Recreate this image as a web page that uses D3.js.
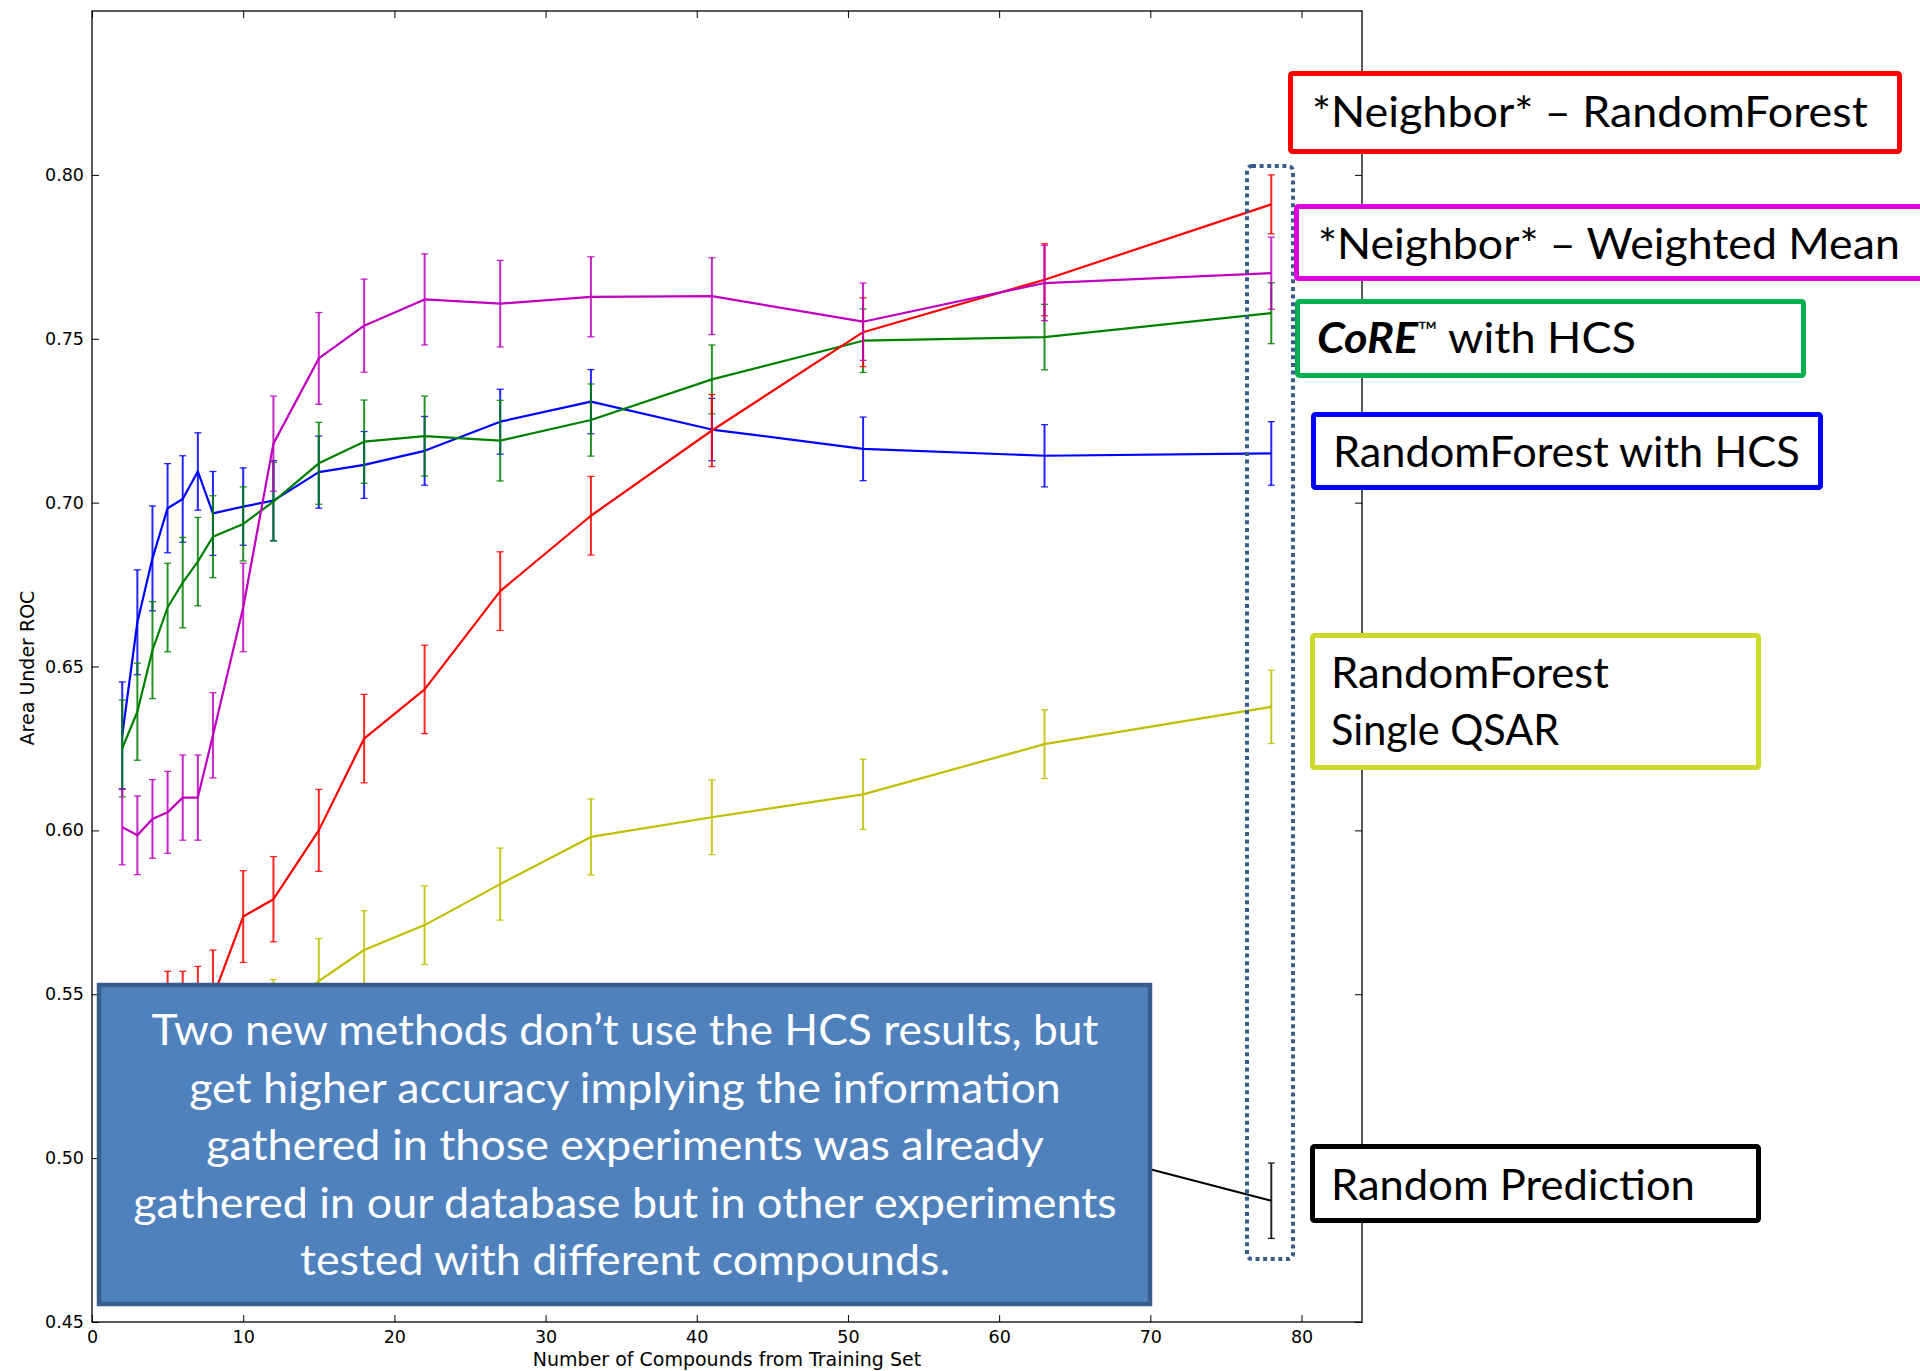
<!DOCTYPE html>
<html><head><meta charset="utf-8">
<script src="https://cdn.jsdelivr.net/npm/d3@7"></script>
<style>body{margin:0;background:#fff} svg{display:block}</style>
</head><body>
<svg id="chart" width="1920" height="1371"></svg>
<script>
// ---------- data ----------
const xValues = [2,3,4,5,6,7,8,10,12,15,18,22,27,33,41,51,63,78];

const rfHcsMean   = [0.629,0.6635,0.683,0.6983,0.7011,0.7095,0.6967,0.6988,0.7006,0.7093,0.7115,0.7158,0.7247,0.7308,0.7223,0.7164,0.7143,0.7150];
const rfHcsErr    = [0.0163,0.016,0.016,0.0136,0.0132,0.0118,0.0128,0.0118,0.0122,0.011,0.0102,0.0105,0.0099,0.0098,0.0095,0.0097,0.0095,0.0097];

const coreMean    = [0.625,0.6362,0.655,0.668,0.6756,0.682,0.6896,0.6935,0.7003,0.712,0.7186,0.7203,0.7189,0.7252,0.7376,0.7494,0.7505,0.7578];
const coreErr     = [0.0148,0.0148,0.0148,0.0135,0.0138,0.0135,0.0125,0.0113,0.012,0.0125,0.0127,0.0122,0.0123,0.011,0.0105,0.0097,0.010,0.0093];

const nbrRfMean   = [0.525,0.530,0.536,0.543,0.543,0.545,0.549,0.5737,0.579,0.600,0.628,0.643,0.673,0.696,0.722,0.752,0.768,0.791];
const nbrRfErr    = [0.014,0.014,0.014,0.014,0.014,0.0135,0.0145,0.014,0.013,0.0125,0.0135,0.0135,0.012,0.012,0.011,0.0105,0.011,0.009];

const nbrWmMean   = [0.601,0.5985,0.6035,0.6055,0.610,0.610,0.629,0.668,0.718,0.744,0.754,0.762,0.7607,0.7628,0.763,0.7552,0.767,0.770];
const nbrWmErr    = [0.0115,0.012,0.012,0.0125,0.013,0.013,0.013,0.0135,0.0145,0.014,0.0142,0.0139,0.0132,0.0122,0.0117,0.0118,0.0115,0.011];

const rfQsarMean  = [0.520,0.523,0.525,0.528,0.530,0.532,0.535,0.538,0.542,0.554,0.5635,0.5711,0.5836,0.598,0.604,0.611,0.6263,0.6377];
const rfQsarErr   = [0.012,0.012,0.012,0.012,0.012,0.012,0.012,0.012,0.0125,0.013,0.012,0.012,0.011,0.0116,0.0114,0.0107,0.0105,0.0112];

const randomMean  = [0.500,0.500,0.500,0.500,0.500,0.500,0.500,0.500,0.500,0.500,0.500,0.500,0.500,0.500,0.500,0.500,0.505,0.487];
const randomErr   = [0.0115,0.0115,0.0115,0.0115,0.0115,0.0115,0.0115,0.0115,0.0115,0.0115,0.0115,0.0115,0.0115,0.0115,0.0115,0.0115,0.0115,0.0115];

const xTicks = [0,10,20,30,40,50,60,70,80];
const yTicks = [0.45,0.50,0.55,0.60,0.65,0.70,0.75,0.80];
const xLabel = "Number of Compounds from Training Set";
const yLabel = "Area Under ROC";

const legendLabels = ["*Neighbor* – RandomForest","*Neighbor* – Weighted Mean","CoRE™ with HCS","RandomForest with HCS","RandomForest|Single QSAR","Random Prediction"];
const noteLines = ["Two new methods don’t use the HCS results, but","get higher accuracy implying the information","gathered in those experiments was already","gathered in our database but in other experiments","tested with different compounds."];

// ---------- setup ----------
const svg = d3.select("#chart");
const L = 92, R = 1362, T = 11, B = 1322;
const x = d3.scaleLinear().domain([0,84]).range([L,R]);
const y = d3.scaleLinear().domain([0.45,0.85]).range([B,T]);

const series = [
  {mean: rfHcsMean,  err: rfHcsErr,  color: "#0000ff"},
  {mean: coreMean,   err: coreErr,   color: "#008000"},
  {mean: nbrRfMean,  err: nbrRfErr,  color: "#ff0000"},
  {mean: nbrWmMean,  err: nbrWmErr,  color: "#bf00bf"},
  {mean: rfQsarMean, err: rfQsarErr, color: "#bfbf00"},
  {mean: randomMean, err: randomErr, color: "#000000"}
];

const tickFont = "'DejaVu Sans', sans-serif";

// axes
const gx = svg.append("g").attr("transform",`translate(0,${B})`)
  .call(d3.axisBottom(x).tickValues(xTicks).tickSizeInner(-7).tickSizeOuter(0).tickPadding(9).tickFormat(d3.format("d")));
const gxt = svg.append("g").attr("transform",`translate(0,${T})`)
  .call(d3.axisTop(x).tickValues(xTicks).tickSizeInner(-7).tickSizeOuter(0).tickFormat(""));
const gy = svg.append("g").attr("transform",`translate(${L},0)`)
  .call(d3.axisLeft(y).tickValues(yTicks).tickSizeInner(-7).tickSizeOuter(0).tickPadding(8).tickFormat(d3.format(".2f")));
const gyr = svg.append("g").attr("transform",`translate(${R},0)`)
  .call(d3.axisRight(y).tickValues(yTicks).tickSizeInner(-7).tickSizeOuter(0).tickFormat(""));
[gx,gxt,gy,gyr].forEach(g=>{
  g.select(".domain").remove();
  g.selectAll(".tick line").attr("stroke","#000").attr("stroke-width",1);
  g.selectAll("text").attr("font-family",tickFont).attr("font-size",17.5).attr("fill","#000");
});
gx.selectAll("text").attr("dy","0.71em");

// frame
svg.append("rect").attr("x",L).attr("y",T).attr("width",R-L).attr("height",B-T)
  .attr("fill","none").attr("stroke","#000").attr("stroke-width",1.3);

// axis labels
svg.append("text").attr("x",(L+R)/2).attr("y",1365.5).attr("text-anchor","middle")
  .attr("font-family",tickFont).attr("font-size",19).text(xLabel);
svg.append("text").attr("transform","translate(34,668) rotate(-90)").attr("text-anchor","middle")
  .attr("font-family",tickFont).attr("font-size",19).text(yLabel);

// series
const line = d3.line().x((d,i)=>x(xValues[i])).y(d=>y(d));
series.forEach(s=>{
  const g = svg.append("g");
  const pts = xValues.map((xv,i)=>({xv, m:s.mean[i], e:s.err[i]}));
  g.selectAll("line.eb").data(pts).enter().append("line")
    .attr("x1",d=>x(d.xv)).attr("x2",d=>x(d.xv))
    .attr("y1",d=>y(d.m-d.e)).attr("y2",d=>y(d.m+d.e))
    .attr("stroke",s.color).attr("stroke-width",2).attr("opacity",0.85);
  ["top","bot"].forEach(k=>{
    g.selectAll("line.cap"+k).data(pts).enter().append("line")
      .attr("x1",d=>x(d.xv)-3.5).attr("x2",d=>x(d.xv)+3.5)
      .attr("y1",d=>y(k==="top"?d.m+d.e:d.m-d.e)).attr("y2",d=>y(k==="top"?d.m+d.e:d.m-d.e))
      .attr("stroke",s.color).attr("stroke-width",1.3).attr("opacity",0.85);
  });
  g.append("path").datum(s.mean).attr("d",line).attr("fill","none")
    .attr("stroke",s.color).attr("stroke-width",2.2).attr("stroke-linejoin","round");
});

// ---------- annotations ----------
const calFont = "Lato, 'Open Sans', sans-serif";
function fitWidth(sel, target, ax){
  const w = sel.node().getBBox().width;
  if (w>0){ const s = target/w; sel.attr("transform",`translate(${ax},0) scale(${s},1) translate(${-ax},0)`); }
}

// note box
svg.append("rect").attr("x",99).attr("y",985).attr("width",1051).attr("height",319)
  .attr("fill","#4f81bd").attr("stroke","#385d8a").attr("stroke-width",4.5);
const noteWidths = [947,872,838,984,650];
noteLines.forEach((t,i)=>{
  const tx = svg.append("text").attr("x",625).attr("y",1045.5+i*57.5).attr("text-anchor","middle")
    .attr("font-family",calFont).attr("font-size",43).attr("fill","#fff").text(t);
  fitWidth(tx, noteWidths[i], 625);
});

// dotted highlight rectangle
svg.append("rect").attr("x",1247).attr("y",166).attr("width",46).attr("height",1093).attr("rx",5)
  .attr("fill","none").attr("stroke","#385d8a").attr("stroke-width",4).attr("stroke-dasharray","4 3.6");

// legend boxes
const boxes = [
  {x0:1288,y0:71,x1:1902,y1:154,color:"#ff0000",sw:5,tx:1312,base:[127],w:[556]},
  {x0:1294,y0:204,x1:1935,y1:281,color:"#dd00dd",sw:5,tx:1318,base:[259],w:[582]},
  {x0:1295,y0:299,x1:1806,y1:378,color:"#00b050",sw:5,tx:1317,base:[353],w:[319]},
  {x0:1311,y0:412,x1:1823,y1:490,color:"#0000ff",sw:5,tx:1333,base:[467],w:[467]},
  {x0:1310,y0:633,x1:1761,y1:770,color:"#cbda2a",sw:5,tx:1331,base:[688,745],w:[278,229]},
  {x0:1310,y0:1144,x1:1761,y1:1223,color:"#000000",sw:5,tx:1331,base:[1200],w:[364]}
];
boxes.forEach((b,i)=>{
  svg.append("rect").attr("x",b.x0+b.sw/2).attr("y",b.y0+b.sw/2)
    .attr("width",b.x1-b.x0-b.sw).attr("height",b.y1-b.y0-b.sw).attr("rx",2)
    .attr("fill","#fff").attr("stroke",b.color).attr("stroke-width",b.sw);
  const parts = legendLabels[i].split("|");
  parts.forEach((p,j)=>{
    const tx = svg.append("text").attr("x",b.tx).attr("y",b.base[j])
      .attr("font-family",calFont).attr("font-size",42).attr("fill","#000");
    if (i===2){
      tx.append("tspan").attr("font-weight","bold").attr("font-style","italic").text("CoRE");
      tx.append("tspan").attr("font-size",24).attr("dy",-14).text("™");
      tx.append("tspan").attr("dy",14).text(" with HCS");
    } else tx.text(p);
    fitWidth(tx, b.w[j], b.tx);
  });
});
</script>
</body></html>
